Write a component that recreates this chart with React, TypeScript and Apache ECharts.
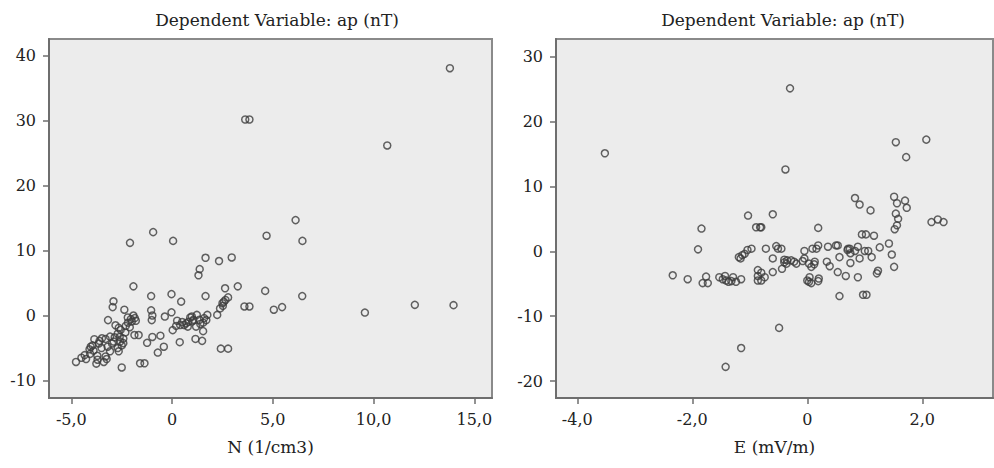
import React, { useEffect, useRef } from "react";
import * as echarts from "echarts";

const titleText = "Dependent Variable: ap (nT)";
const leftXName = "N (1/cm3)";
const rightXName = "E (mV/m)";

const leftXTicks = [-5, 0, 5, 10, 15];
const leftYTicks = [-10, 0, 10, 20, 30, 40];
const rightXTicks = [-4, -2, 0, 2];
const rightYTicks = [-20, -10, 0, 10, 20, 30];

const leftPoints: number[][] = [
  [13.79, 38.1], [3.63, 30.2], [3.84, 30.2], [10.68, 26.2], [6.13, 14.7], [-0.94, 12.85], [4.69, 12.3],
  [-2.09, 11.2], [0.05, 11.5], [6.47, 11.5], [1.66, 8.9], [2.96, 8.95], [2.33, 8.4], [1.37, 7.15],
  [1.31, 6.2], [-1.92, 4.5], [3.26, 4.5], [4.62, 3.8], [-1.04, 3.0], [-0.03, 3.3], [1.66, 3.0],
  [6.46, 3.0], [0.45, 2.15], [-2.91, 2.2], [-2.95, 1.3], [-2.37, 0.9], [2.63, 4.2], [2.78, 2.8],
  [2.57, 2.15], [2.52, 1.5], [2.38, 1.1], [3.59, 1.4], [3.84, 1.4], [5.05, 0.9], [5.46, 1.3],
  [9.57, 0.46], [12.05, 1.65], [13.97, 1.6], [2.24, 0.1], [-0.03, 0.5], [-1.04, 0.8], [-0.98, 0],
  [-1.01, -0.7], [-0.36, -0.15], [0.03, -2.25], [0.25, -0.8], [-3.18, -0.7], [-2.81, -1.5], [-2.65, -1.9],
  [-1.92, 0], [-2.05, -0.55], [-2.19, -1.1], [-1.87, -3.0], [-1.66, -3.0], [-1.24, -4.2], [-0.98, -3.3],
  [-0.58, -3.1], [-0.41, -4.8], [-0.71, -5.7], [0.38, -4.1], [1.16, -3.6], [1.49, -3.9], [1.54, -2.4],
  [1.54, -1.1], [2.42, -5.1], [2.78, -5.1], [-1.37, -7.35], [-1.59, -7.35], [-2.5, -8.0], [-4.77, -7.15],
  [-4.27, -6.7], [-3.76, -7.4], [-3.39, -7.15], [-3.25, -6.7], [-4.34, -6.1], [-4.07, -5.9], [-3.71, -6.2],
  [-4.04, -4.8], [-3.86, -3.65], [-3.48, -3.5], [-3.08, -3.25], [-2.85, -3.35], [-3.08, -5.5], [-2.65, -5.5],
  [-2.42, -3.55], [-2.42, -4.25], [-2.32, -2.6], [-2.58, -4.0], [-2.98, -4.3], [-3.9, -5.4], [-3.64, -4.3],
  [0.4, -1.45], [0.6, -1.45], [0.81, -0.95], [0.98, -0.15], [1.06, -0.65], [1.23, 0.1], [1.36, -0.65],
  [1.59, -0.4], [1.75, 0.1], [1.19, -1.7], [0.78, -1.7],
  [-2.2, -0.3], [-2.0, -0.9], [-1.85, -0.4], [-2.3, -1.6], [-2.55, -2.2], [-2.7, -2.8], [-3.3, -3.6],
  [-3.6, -3.9], [-3.95, -4.6], [-4.1, -5.2], [-3.5, -5.0], [-3.2, -4.8], [-2.9, -4.0], [-2.6, -3.3],
  [-2.5, -4.6], [-2.7, -5.0], [-3.3, -6.3], [-3.7, -6.8], [-4.5, -6.5], [1.0, -0.9], [0.7, -1.2],
  [1.4, -1.3], [0.9, -0.3], [1.7, -0.7], [0.5, -1.0], [0.2, -1.6], [2.5, 1.9], [2.65, 2.4],
  [-1.8, -0.8], [-2.1, -1.8],
];

const rightPoints: number[][] = [
  [-3.52, 15.1], [-0.3, 25.1], [-0.38, 12.6], [1.54, 16.8], [2.07, 17.2], [1.72, 14.5], [0.83, 8.2],
  [0.91, 7.2], [1.1, 6.3], [1.51, 8.4], [1.56, 7.4], [1.7, 7.8], [1.73, 6.7], [1.54, 5.8], [1.58, 5.0],
  [1.56, 4.0], [1.52, 3.4], [2.16, 4.5], [2.27, 4.9], [2.37, 4.5], [-1.03, 5.5], [-0.6, 5.7], [-0.89, 3.7],
  [-0.8, 3.7], [-1.84, 3.5], [0.19, 3.6], [0.95, 2.6], [1.02, 2.6], [1.16, 2.4], [-1.9, 0.3], [-2.34, -3.7],
  [-2.08, -4.3], [-1.82, -4.9], [-1.73, -4.9], [-1.76, -3.9], [-1.53, -4.0], [-1.43, -3.8], [-1.37, -4.7],
  [-1.41, -4.5], [-1.29, -4.0], [-1.24, -4.7], [-1.15, -4.3], [-0.86, -2.9], [-0.86, -3.8], [-0.86, -4.5],
  [-0.8, -4.5], [-0.74, -4.0], [-1.19, -0.9], [-1.13, -0.6], [-1.09, -0.4], [-1.04, 0.2], [-0.97, 0.4],
  [-0.72, 0.4], [-0.6, -1.1], [-0.6, -3.2], [-0.54, 0.8], [-0.51, 0.4], [-0.45, 0.4], [-0.44, -2.7],
  [-0.4, -1.3], [-0.35, -1.4], [-0.28, -1.4], [-0.23, -1.6], [-0.19, -1.9], [-0.49, -11.8], [-1.15, -14.9],
  [-1.42, -17.8], [-0.05, 0.05], [-0.05, -1.1], [0.03, -1.9], [0.07, -2.4], [0.04, -4.0], [0.03, -4.7],
  [0.07, -4.9], [0.09, 0.4], [0.16, 0.4], [0.19, 0.9], [0.13, -1.6], [0.2, -4.2], [0.19, -4.6], [0.36, 0.7],
  [0.5, 0.9], [0.53, 0.9], [0.39, -2.3], [0.34, -1.6], [0.53, -3.2], [0.56, -0.9], [0.56, -6.9], [0.67, -3.8],
  [0.71, 0.4], [0.74, 0.4], [0.75, -0.3], [0.75, -1.8], [0.83, 0.05], [0.88, 0.7], [0.91, -1.1], [0.88, -4.0],
  [1.0, 0.05], [1.06, 0.05], [0.97, -6.7], [1.03, -6.7], [1.12, -0.9], [1.23, -3.0], [1.21, -3.4], [1.26, 0.6],
  [1.42, 1.2], [1.47, -0.5], [1.51, -2.4],
  [-1.16, -1.1], [-0.82, 3.7], [-0.8, -3.3], [-1.32, -4.6], [-1.47, -4.3], [-0.36, -1.9], [-0.4, -1.7],
  [0.12, -2.0], [0.0, -4.5], [0.7, 0.2], [-0.08, -1.5],
];

const FONT = "DejaVu Serif";
const TEXT = "#222";

function fmtX(v: number) {
  if (v === 0) return "0";
  return v.toFixed(1).replace(".", ",");
}

function xAxisCfg(gridIndex: number, min: number, max: number, ticks: number[], name: string) {
  return {
    type: "value",
    gridIndex,
    min,
    max,
    name,
    nameLocation: "middle",
    nameGap: 40,
    nameTextStyle: { fontFamily: FONT, fontSize: 17, color: TEXT },
    splitLine: { show: false },
    axisLine: { show: true, onZero: false, lineStyle: { color: "#6e6e6e", width: 2 } },
    axisTick: { show: true, customValues: ticks, length: 6, lineStyle: { color: "#6e6e6e", width: 1.5 } },
    axisLabel: {
      customValues: ticks,
      formatter: (v: number) => fmtX(v),
      fontFamily: FONT,
      fontSize: 16,
      color: TEXT,
      margin: 13,
    },
  };
}

function yAxisCfg(gridIndex: number, min: number, max: number, ticks: number[]) {
  return {
    type: "value",
    gridIndex,
    min,
    max,
    splitLine: { show: false },
    axisLine: { show: true, onZero: false, lineStyle: { color: "#6e6e6e", width: 2 } },
    axisTick: { show: true, customValues: ticks, length: 6, lineStyle: { color: "#6e6e6e", width: 1.5 } },
    axisLabel: {
      customValues: ticks,
      formatter: (v: number) => String(v),
      fontFamily: FONT,
      fontSize: 16,
      color: TEXT,
      margin: 13,
    },
  };
}

const markerStyle = {
  color: "rgba(0,0,0,0)",
  borderColor: "#3c3c3c",
  borderWidth: 1.5,
};

export default function App() {
  const ref = useRef<HTMLDivElement>(null);
  useEffect(() => {
    if (!ref.current) return;
    const chart = echarts.init(ref.current, null, { renderer: "svg" });
    chart.setOption({
      animation: false,
      backgroundColor: "#ffffff",
      title: [
        {
          text: titleText,
          left: 272,
          top: 6,
          textAlign: "center",
          textStyle: { fontFamily: FONT, fontSize: 17, fontWeight: "normal", color: TEXT },
        },
        {
          text: titleText,
          left: 778,
          top: 6,
          textAlign: "center",
          textStyle: { fontFamily: FONT, fontSize: 17, fontWeight: "normal", color: TEXT },
        },
      ],
      grid: [
        { left: 49, top: 39, width: 443, height: 359, show: true, backgroundColor: "#ececec", borderColor: "#8a8a8a", borderWidth: 2 },
        { left: 556, top: 39, width: 437, height: 359, show: true, backgroundColor: "#ececec", borderColor: "#8a8a8a", borderWidth: 2 },
      ],
      xAxis: [
        xAxisCfg(0, -6.11, 15.88, leftXTicks, leftXName),
        xAxisCfg(1, -4.37, 3.23, rightXTicks, rightXName),
      ],
      yAxis: [
        yAxisCfg(0, -12.7, 42.6, leftYTicks),
        yAxisCfg(1, -22.6, 32.7, rightYTicks),
      ],
      series: [
        {
          type: "scatter",
          xAxisIndex: 0,
          yAxisIndex: 0,
          data: leftPoints,
          symbol: "circle",
          symbolSize: 7,
          itemStyle: markerStyle,
        },
        {
          type: "scatter",
          xAxisIndex: 1,
          yAxisIndex: 1,
          data: rightPoints,
          symbol: "circle",
          symbolSize: 7,
          itemStyle: markerStyle,
        },
      ],
    });
    return () => chart.dispose();
  }, []);
  return (
    <div
      ref={ref}
      style={{ position: "fixed", left: 0, top: 0, width: 994, height: 468 }}
    />
  );
}
